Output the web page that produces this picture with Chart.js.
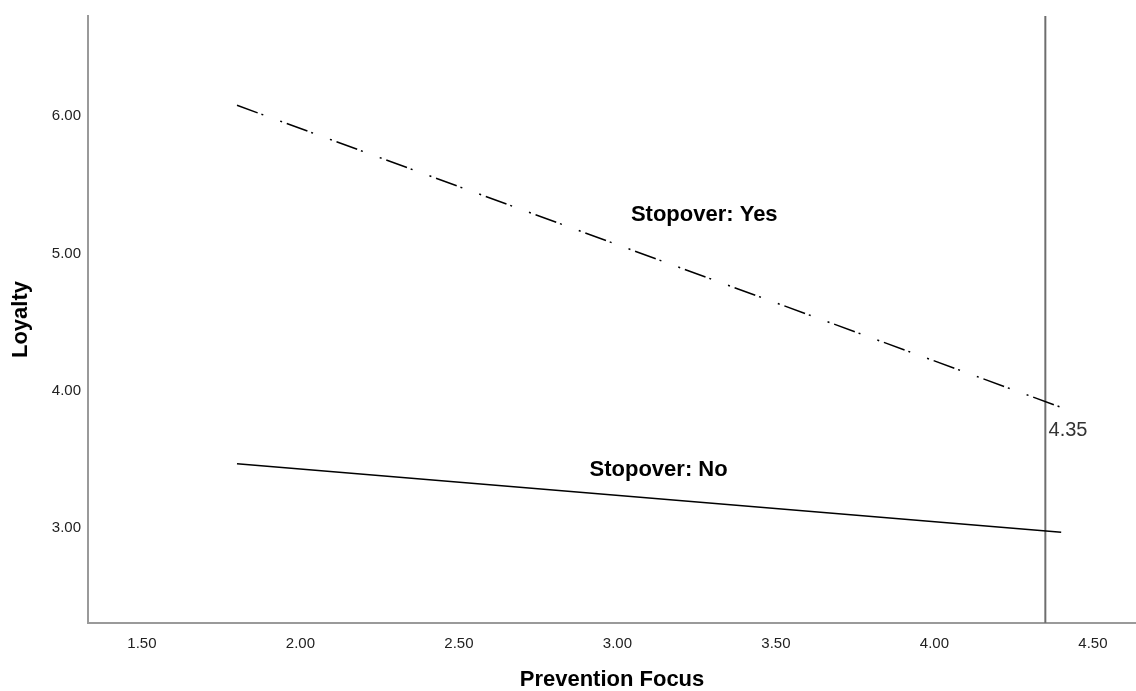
<!DOCTYPE html>
<html>
<head>
<meta charset="utf-8">
<script src="https://cdn.jsdelivr.net/npm/chart.js@4"></script>
<style>
  html, body { margin: 0; padding: 0; background: #ffffff; }
  #wrap { width: 1136px; height: 691px; }
</style>
</head>
<body>
<div id="wrap"><canvas id="c" width="1136" height="691"></canvas></div>
<script>
// ---- data ----
const xEnds = [1.80, 4.40];          // Prevention Focus at line ends
const yesValues = [6.08, 3.88];      // Stopover: Yes
const noValues = [3.47, 2.97];       // Stopover: No
const refLineX = 4.35;               // vertical reference line
const xTicks = [1.5, 2.0, 2.5, 3.0, 3.5, 4.0, 4.5];
const yTicks = [3, 4, 5, 6];
const xRange = [1.33, 4.636];
const yRange = [2.31, 6.73];

// annotation text (anchor in data coords)
const notes = [
  { text: 'Stopover: Yes', x: 3.274, y: 5.28, bold: true, align: 'center' },
  { text: 'Stopover: No', x: 3.13, y: 3.425, bold: true, align: 'center' },
  { text: '4.35', x: 4.36, y: 3.715, bold: false, align: 'left' }
];

const FONT = "'Liberation Sans', Arial, Helvetica, sans-serif";

const notePlugin = {
  id: 'notes',
  afterDatasetsDraw(chart) {
    const { ctx, scales } = chart;
    ctx.save();
    notes.forEach(n => {
      ctx.font = (n.bold ? 'bold 22px ' : '20px ') + FONT;
      ctx.fillStyle = n.bold ? '#000000' : '#333333';
      ctx.textAlign = n.align;
      ctx.textBaseline = 'middle';
      ctx.fillText(n.text, scales.x.getPixelForValue(n.x), scales.y.getPixelForValue(n.y));
    });
    ctx.restore();
  }
};

const pts = vals => xEnds.map((x, i) => ({ x: x, y: vals[i] }));

new Chart(document.getElementById('c'), {
  type: 'scatter',
  data: {
    datasets: [
      {
        label: 'Stopover: Yes',
        data: pts(yesValues),
        showLine: true,
        borderColor: '#000000',
        borderWidth: 1.5,
        borderDash: [22, 4, 2, 18, 2, 5],
        pointRadius: 0
      },
      {
        label: 'Stopover: No',
        data: pts(noValues),
        showLine: true,
        borderColor: '#000000',
        borderWidth: 1.5,
        pointRadius: 0
      },
      {
        label: 'ref',
        data: [{ x: refLineX, y: yRange[0] }, { x: refLineX, y: yRange[1] }],
        showLine: true,
        borderColor: '#6e6e6e',
        borderWidth: 2,
        pointRadius: 0
      }
    ]
  },
  options: {
    responsive: false,
    animation: false,
    layout: { padding: { top: 13, right: 0, left: 0, bottom: 0 } },
    plugins: { legend: { display: false }, tooltip: { enabled: false } },
    scales: {
      x: {
        type: 'linear',
        min: xRange[0],
        max: xRange[1],
        grid: { display: false, drawTicks: false },
        border: { display: true, color: '#9a9a9a', width: 2 },
        afterBuildTicks: s => { s.ticks = xTicks.map(v => ({ value: v })); },
        afterFit: s => { s.height = 68; },
        ticks: {
          padding: 12,
          color: '#222222',
          font: { family: FONT, size: 15 },
          callback: v => Number(v).toFixed(2)
        },
        title: {
          display: true,
          text: 'Prevention Focus',
          color: '#000000',
          font: { family: FONT, size: 22, weight: 'bold', lineHeight: 1 },
          padding: { top: 0, bottom: 0 }
        }
      },
      y: {
        type: 'linear',
        min: yRange[0],
        max: yRange[1],
        grid: { display: false, drawTicks: false },
        border: { display: true, color: '#9a9a9a', width: 2 },
        afterBuildTicks: s => { s.ticks = yTicks.map(v => ({ value: v })); },
        afterFit: s => { s.width = 88; },
        ticks: {
          padding: 7,
          color: '#222222',
          font: { family: FONT, size: 15 },
          callback: v => Number(v).toFixed(2)
        },
        title: {
          display: true,
          text: 'Loyalty',
          color: '#000000',
          font: { family: FONT, size: 22, weight: 'bold', lineHeight: 1 },
          padding: { top: 10, bottom: 0 }
        }
      }
    }
  },
  plugins: [notePlugin]
});
</script>
</body>
</html>
